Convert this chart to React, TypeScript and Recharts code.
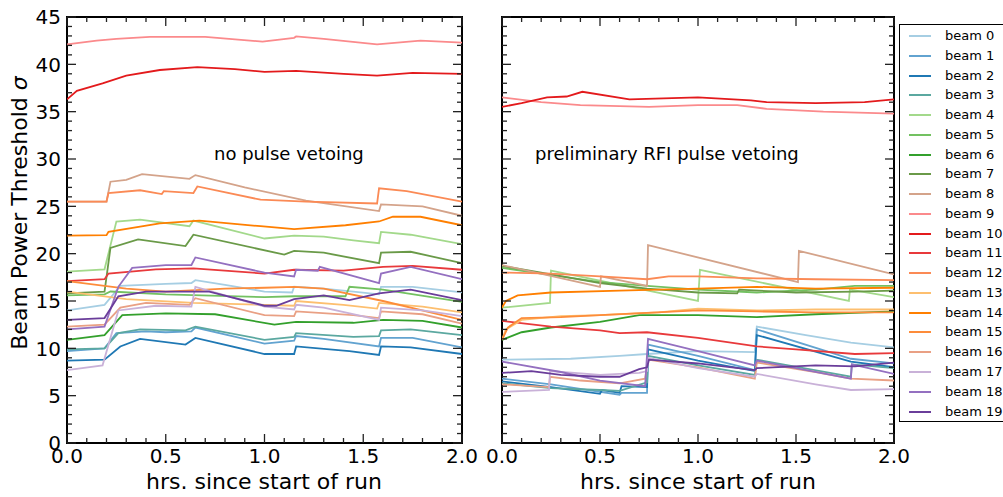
import React from "react";
import { LineChart, Line, XAxis, YAxis, ReferenceArea } from "recharts";

const BEAMS = [
	"beam 0", "beam 1", "beam 2", "beam 3", "beam 4",
	"beam 5", "beam 6", "beam 7", "beam 8", "beam 9",
	"beam 10", "beam 11", "beam 12", "beam 13", "beam 14",
	"beam 15", "beam 16", "beam 17", "beam 18", "beam 19",
];

const BEAM_COLORS = [
	"#a6cee3", "#62a3d0", "#1f78b4", "#5ba8a0", "#a3d98b",
	"#73c161", "#33a02c", "#6a9a48", "#d4a38a", "#fb8a8c",
	"#e31a1c", "#e8393b", "#fb8a55", "#fdbf6f", "#ff7f00",
	"#fd8c3a", "#e9a084", "#c9b1d8", "#9470c0", "#6a3d9a",
];

// no pulse vetoing: [hrs, sigma]
const nv0 = [[0, 14.0], [0.19, 14.6], [0.27, 16.6], [0.5, 16.8], [0.63, 16.9], [0.65, 17.2], [0.8, 16.7], [1.0, 16.0], [1.14, 15.9], [1.15, 16.5], [1.3, 16.3], [1.45, 16.0], [1.58, 15.7], [1.59, 16.5], [1.75, 16.5], [2.0, 15.9]];
const nv1 = [[0, 9.7], [0.19, 10.0], [0.25, 11.6], [0.4, 11.8], [0.5, 11.7], [0.63, 11.8], [0.65, 12.2], [1.0, 10.5], [1.15, 10.8], [1.16, 11.3], [1.3, 11.0], [1.58, 10.2], [1.59, 11.1], [1.75, 11.1], [2.0, 10.1]];
const nv2 = [[0, 8.7], [0.19, 8.8], [0.27, 10.2], [0.37, 11.0], [0.6, 10.4], [0.65, 11.1], [1.0, 9.4], [1.15, 9.4], [1.16, 10.2], [1.43, 9.7], [1.58, 9.3], [1.59, 10.2], [1.74, 10.1], [2.0, 9.4]];
const nv3 = [[0, 9.9], [0.19, 10.0], [0.26, 11.6], [0.37, 12.0], [0.6, 11.9], [0.65, 12.3], [1.0, 10.9], [1.15, 11.2], [1.16, 11.6], [1.45, 11.2], [1.58, 11.3], [1.59, 11.9], [1.74, 12.0], [2.0, 11.4]];
const nv4 = [[0, 18.1], [0.19, 18.35], [0.25, 23.4], [0.37, 23.6], [0.62, 22.9], [0.64, 23.5], [1.0, 21.6], [1.15, 21.9], [1.3, 21.8], [1.45, 21.4], [1.58, 21.1], [1.59, 22.3], [1.74, 22.0], [2.0, 21.0]];
const nv5 = [[0, 15.6], [0.19, 15.7], [0.22, 16.0], [0.5, 15.7], [1.0, 15.4], [1.15, 15.5], [1.41, 15.5], [1.43, 16.5], [1.6, 16.2], [2.0, 14.9]];
const nv6 = [[0, 10.9], [0.19, 11.4], [0.28, 13.5], [0.5, 13.7], [0.75, 13.6], [1.05, 12.5], [1.16, 12.8], [1.45, 12.7], [1.6, 13.0], [1.8, 12.9], [2.0, 12.2]];
const nv7 = [[0, 15.8], [0.19, 16.0], [0.22, 20.6], [0.36, 21.5], [0.6, 20.8], [0.64, 22.0], [1.1, 19.9], [1.15, 20.3], [1.3, 20.1], [1.58, 19.0], [1.59, 20.1], [1.74, 20.2], [2.0, 19.0]];
const nv8 = [[0, 25.5], [0.2, 25.5], [0.22, 27.6], [0.3, 27.8], [0.38, 28.4], [0.62, 27.9], [0.65, 28.3], [0.9, 27.0], [1.21, 25.6], [1.58, 24.5], [1.59, 25.2], [1.8, 25.0], [2.0, 24.0]];
const nv9 = [[0, 42.1], [0.15, 42.5], [0.25, 42.7], [0.42, 42.9], [0.7, 42.9], [0.99, 42.4], [1.15, 42.8], [1.16, 42.95], [1.3, 42.7], [1.57, 42.1], [1.79, 42.5], [2.0, 42.3]];
const nv10 = [[0, 36.3], [0.05, 37.2], [0.18, 38.0], [0.3, 38.8], [0.47, 39.4], [0.66, 39.7], [0.85, 39.5], [1.0, 39.2], [1.16, 39.3], [1.4, 39.0], [1.57, 38.8], [1.75, 39.1], [2.0, 39.0]];
const nv11 = [[0, 17.1], [0.19, 17.3], [0.21, 17.9], [0.45, 18.35], [0.64, 18.45], [1.0, 17.9], [1.15, 18.3], [1.4, 18.2], [1.6, 18.6], [1.75, 18.7], [2.0, 18.3]];
const nv12 = [[0, 25.5], [0.2, 25.5], [0.21, 26.4], [0.37, 26.7], [0.48, 26.3], [0.49, 26.6], [0.64, 26.4], [0.66, 27.1], [0.98, 25.7], [1.21, 25.5], [1.57, 25.3], [1.58, 26.9], [1.72, 26.6], [2.0, 25.5]];
const nv13 = [[0, 16.0], [0.3, 15.2], [0.64, 14.8], [1.0, 14.6], [1.15, 14.5], [1.16, 15.0], [1.4, 14.6], [1.57, 14.2], [1.58, 14.8], [1.8, 14.4], [2.0, 13.8]];
const nv14 = [[0, 21.9], [0.2, 21.95], [0.21, 22.3], [0.47, 23.2], [0.67, 23.5], [0.98, 22.9], [1.15, 22.6], [1.41, 23.0], [1.58, 23.4], [1.65, 23.9], [1.79, 23.9], [2.0, 23.0]];
const nv15 = [[0, 17.1], [0.3, 16.3], [0.5, 16.0], [0.8, 16.3], [1.0, 16.4], [1.15, 16.5], [1.3, 16.3], [1.6, 15.0], [2.0, 13.0]];
const nv16 = [[0, 12.3], [0.19, 12.5], [0.27, 14.3], [0.4, 14.8], [0.62, 14.6], [0.65, 15.3], [1.0, 13.5], [1.15, 13.4], [1.16, 13.9], [1.45, 13.5], [1.58, 13.2], [1.59, 13.9], [1.8, 13.6], [2.0, 12.6]];
const nv17 = [[0, 7.7], [0.18, 8.2], [0.26, 14.0], [0.45, 14.5], [0.63, 14.4], [0.65, 16.5], [1.0, 14.4], [1.15, 14.1], [1.16, 14.6], [1.3, 14.3], [1.58, 13.0], [1.59, 14.3], [1.8, 14.0], [2.0, 13.4]];
const nv18 = [[0, 12.0], [0.19, 12.3], [0.26, 16.5], [0.33, 18.5], [0.5, 18.8], [0.63, 18.8], [0.65, 19.6], [1.0, 18.0], [1.15, 17.6], [1.16, 18.3], [1.27, 18.2], [1.28, 18.6], [1.58, 16.9], [1.59, 17.9], [1.74, 18.6], [2.0, 17.3]];
const nv19 = [[0, 13.0], [0.19, 13.2], [0.26, 15.5], [0.4, 16.0], [0.72, 16.0], [1.0, 14.5], [1.06, 14.5], [1.15, 15.2], [1.3, 15.6], [1.43, 15.1], [1.58, 15.8], [1.74, 16.2], [2.0, 15.1]];

// preliminary RFI pulse vetoing: [hrs, sigma]
const rv0 = [[0, 8.8], [0.35, 8.9], [0.6, 9.2], [0.74, 9.4], [1.0, 9.7], [1.29, 9.6], [1.3, 12.3], [1.55, 11.4], [1.78, 10.6], [2.0, 10.1]];
const rv1 = [[0, 6.8], [0.25, 6.2], [0.5, 5.4], [0.6, 5.1], [0.61, 5.3], [0.74, 5.3], [0.745, 10.4], [1.0, 9.2], [1.29, 7.7], [1.3, 12.0], [1.78, 8.9], [2.0, 8.4]];
const rv2 = [[0, 6.5], [0.25, 5.9], [0.5, 5.2], [0.51, 5.6], [0.6, 5.3], [0.61, 6.0], [0.74, 5.9], [0.745, 9.9], [1.0, 8.7], [1.29, 7.6], [1.3, 11.4], [1.78, 8.6], [2.0, 8.0]];
const rv3 = [[0, 6.3], [0.25, 5.8], [0.5, 5.6], [0.6, 5.5], [0.74, 6.4], [0.745, 9.2], [1.0, 8.2], [1.29, 7.2], [1.3, 8.8], [1.78, 7.0], [1.785, 8.3], [2.0, 7.9]];
const rv4 = [[0, 14.3], [0.245, 14.8], [0.25, 18.2], [1.0, 15.0], [1.01, 18.3], [1.77, 15.0], [1.775, 16.2], [2.0, 15.4]];
const rv5 = [[0, 18.5], [0.3, 17.6], [0.5, 17.0], [0.74, 16.6], [1.0, 16.2], [1.3, 15.9], [1.6, 16.2], [1.8, 16.6], [2.0, 16.6]];
const rv6 = [[0, 10.9], [0.1, 11.7], [0.25, 12.2], [0.5, 12.8], [0.7, 13.5], [1.0, 13.5], [1.3, 13.3], [1.6, 13.6], [2.0, 13.9]];
const rv7 = [[0, 18.7], [0.2, 18.0], [0.5, 16.9], [0.74, 16.3], [1.0, 15.9], [1.2, 15.8], [1.21, 16.2], [1.5, 15.9], [1.8, 16.0], [2.0, 16.1]];
const rv8 = [[0, 18.8], [0.5, 16.5], [0.505, 17.6], [0.74, 16.6], [0.745, 20.9], [1.51, 17.0], [1.515, 20.3], [2.0, 17.8]];
const rv9 = [[0, 36.5], [0.2, 36.0], [0.4, 35.7], [0.75, 35.5], [1.0, 35.7], [1.2, 35.7], [1.35, 35.3], [1.64, 35.0], [2.0, 34.8]];
const rv10 = [[0, 35.5], [0.1, 35.9], [0.23, 36.5], [0.33, 36.6], [0.41, 37.1], [0.65, 36.3], [1.0, 36.5], [1.27, 36.2], [1.35, 36.0], [1.6, 35.9], [1.85, 36.0], [2.0, 36.3]];
const rv11 = [[0, 12.9], [0.25, 12.3], [0.5, 11.9], [0.6, 11.6], [0.74, 11.7], [1.0, 11.1], [1.3, 10.2], [1.5, 9.9], [1.8, 9.4], [2.0, 9.5]];
const rv12 = [[0, 18.0], [0.25, 17.9], [0.5, 17.6], [0.74, 17.3], [0.85, 17.6], [1.0, 17.6], [1.3, 17.4], [1.6, 17.3], [2.0, 17.2]];
const rv13 = [[0, 10.9], [0.02, 12.0], [0.1, 13.0], [0.3, 13.4], [0.5, 13.5], [0.8, 13.8], [1.0, 14.2], [1.3, 14.0], [1.6, 14.1], [2.0, 14.1]];
const rv14 = [[0, 14.3], [0.02, 15.0], [0.08, 15.6], [0.25, 15.9], [0.6, 16.1], [1.0, 16.3], [1.3, 16.5], [1.6, 16.3], [2.0, 16.4]];
const rv15 = [[0, 10.9], [0.03, 12.2], [0.1, 13.2], [0.3, 13.3], [0.5, 13.5], [1.0, 14.0], [1.3, 13.9], [1.6, 13.8], [2.0, 13.8]];
const rv16 = [[0, 6.2], [0.24, 5.9], [0.245, 7.0], [0.4, 6.6], [0.6, 6.3], [0.73, 6.8], [0.745, 8.8], [1.0, 8.0], [1.29, 6.8], [1.3, 8.5], [1.6, 7.5], [1.78, 6.8], [2.0, 6.6]];
const rv17 = [[0, 5.4], [0.24, 5.6], [0.245, 7.6], [0.5, 7.2], [0.7, 7.4], [0.74, 7.6], [0.745, 9.0], [1.0, 7.9], [1.29, 7.0], [1.3, 7.3], [1.6, 6.2], [1.78, 5.6], [2.0, 5.7]];
const rv18 = [[0, 8.6], [0.3, 7.5], [0.5, 6.6], [0.73, 6.0], [0.745, 11.0], [1.0, 9.7], [1.29, 8.2], [1.3, 8.7], [1.78, 6.8], [1.785, 8.3], [2.0, 7.3]];
const rv19 = [[0, 7.4], [0.15, 7.6], [0.3, 7.2], [0.5, 7.0], [0.6, 7.0], [0.7, 7.8], [0.74, 8.0], [0.75, 8.8], [1.0, 8.4], [1.29, 7.7], [1.3, 7.9], [1.6, 8.2], [1.8, 8.1], [2.0, 8.5]];

const NO_VETO = [nv0, nv1, nv2, nv3, nv4, nv5, nv6, nv7, nv8, nv9, nv10, nv11, nv12, nv13, nv14, nv15, nv16, nv17, nv18, nv19];
const RFI_VETO = [rv0, rv1, rv2, rv3, rv4, rv5, rv6, rv7, rv8, rv9, rv10, rv11, rv12, rv13, rv14, rv15, rv16, rv17, rv18, rv19];

const X_TICKS = [0, 0.1, 0.2, 0.3, 0.4, 0.5, 0.6, 0.7, 0.8, 0.9, 1.0, 1.1, 1.2, 1.3, 1.4, 1.5, 1.6, 1.7, 1.8, 1.9, 2.0];
const X_LABELS = ["0.0", "0.5", "1.0", "1.5", "2.0"];
const Y_TICKS = [0, 1, 2, 3, 4, 5, 6, 7, 8, 9, 10, 11, 12, 13, 14, 15, 16, 17, 18, 19, 20, 21, 22, 23, 24, 25, 26, 27, 28, 29, 30, 31, 32, 33, 34, 35, 36, 37, 38, 39, 40, 41, 42, 43, 44, 45];
const Y_LABELS = ["0", "5", "10", "15", "20", "25", "30", "35", "40", "45"];

const CHART_H = 497;
const PLOT_TOP = 17;
const PLOT_BOTTOM = 443;
const TICK_COLOR = "#222";
// extra room to the right of each plot so the last tick label is not cut
const RIGHT_PAD = 24;

const toRows = (pts: number[][]) => pts.map(([t, v]) => ({ t, v }));

interface PanelProps {
	series: number[][][];
	left: number;
	plotLeft: number;
	plotRight: number;
	showYLabels: boolean;
}

const Panel: React.FC<PanelProps> = ({ series, left, plotLeft, plotRight, showYLabels }) => {
	const axisW = plotLeft - left;
	const pl = axisW;
	const pr = plotRight - left;
	const width = pr + RIGHT_PAD;

	const xTick = (props: any) => {
		const { x, payload } = props;
		const label = Number(payload.value).toFixed(1);
		const major = X_LABELS.includes(label);
		const len = major ? 9 : 5;
		return (
			<g>
				<line x1={x} x2={x} y1={PLOT_BOTTOM} y2={PLOT_BOTTOM - len} stroke={TICK_COLOR} strokeWidth={1.3} />
				<line x1={x} x2={x} y1={PLOT_TOP} y2={PLOT_TOP + len} stroke={TICK_COLOR} strokeWidth={1.3} />
				{major && (
					<text x={x} y={PLOT_BOTTOM + 6} dy="0.72em" textAnchor="middle" fontSize={20} fill="#000">
						{label}
					</text>
				)}
			</g>
		);
	};

	const yTick = (props: any) => {
		const { y, payload } = props;
		const label = String(payload.value);
		const major = Y_LABELS.includes(label);
		const len = major ? 9 : 5;
		return (
			<g>
				<line x1={pl} x2={pl + len} y1={y} y2={y} stroke={TICK_COLOR} strokeWidth={1.3} />
				<line x1={pr - len} x2={pr} y1={y} y2={y} stroke={TICK_COLOR} strokeWidth={1.3} />
				{major && showYLabels && (
					<text x={pl - 6} y={y} dy="0.36em" textAnchor="end" fontSize={20} fill="#000">
						{label}
					</text>
				)}
			</g>
		);
	};

	return (
		<div style={{ position: "absolute", left, top: 0 }}>
			<LineChart
				width={width}
				height={CHART_H}
				margin={{ top: PLOT_TOP, right: RIGHT_PAD, bottom: 0, left: 0 }}
			>
				<XAxis
					type="number"
					dataKey="t"
					domain={[0, 2]}
					ticks={X_TICKS}
					interval={0}
					tickSize={0}
					tickMargin={6}
					axisLine={false}
					tickLine={false}
					tick={xTick}
					height={CHART_H - PLOT_BOTTOM}
					allowDataOverflow
				/>
				<YAxis
					type="number"
					domain={[0, 45]}
					ticks={Y_TICKS}
					interval={0}
					width={axisW}
					tickSize={0}
					tickMargin={6}
					axisLine={false}
					tickLine={false}
					tick={yTick}
					allowDataOverflow
				/>
				{series.map((pts, i) => (
					<Line
						key={BEAMS[i]}
						name={BEAMS[i]}
						data={toRows(pts)}
						dataKey="v"
						type="linear"
						stroke={BEAM_COLORS[i]}
						strokeWidth={1.8}
						dot={false}
						activeDot={false}
						isAnimationActive={false}
					/>
				))}
				<ReferenceArea x1={0} x2={2} y1={0} y2={45} fill="none" stroke="#000" strokeWidth={2} ifOverflow="visible" />
			</LineChart>
		</div>
	);
};

export default function App() {
	return (
		<div
			style={{
				position: "absolute",
				left: 0,
				top: 0,
				width: 1003,
				height: CHART_H,
				overflow: "hidden",
				background: "#fff",
				fontFamily: "'DejaVu Sans', sans-serif",
				color: "#000",
			}}
		>
			<Panel series={NO_VETO} left={0} plotLeft={67} plotRight={462} showYLabels />
			<Panel series={RFI_VETO} left={470} plotLeft={502} plotRight={894} showYLabels={false} />

			{/* panel annotations */}
			<div style={{ position: "absolute", left: 214, top: 145, fontSize: 18, lineHeight: "18px", whiteSpace: "nowrap" }}>
				no pulse vetoing
			</div>
			<div style={{ position: "absolute", left: 535, top: 145, fontSize: 18, lineHeight: "18px", whiteSpace: "nowrap" }}>
				preliminary RFI pulse vetoing
			</div>

			{/* axis labels */}
			<div style={{ position: "absolute", left: 64, width: 400, top: 471, textAlign: "center", fontSize: 22, lineHeight: "22px" }}>
				hrs. since start of run
			</div>
			<div style={{ position: "absolute", left: 498, width: 400, top: 471, textAlign: "center", fontSize: 22, lineHeight: "22px" }}>
				hrs. since start of run
			</div>
			<div
				style={{
					position: "absolute",
					left: 20 - 210,
					top: 213 - 12,
					width: 420,
					height: 24,
					lineHeight: "24px",
					textAlign: "center",
					fontSize: 22,
					transform: "rotate(-90deg)",
					whiteSpace: "nowrap",
				}}
			>
				Beam Power Threshold <span style={{ fontStyle: "italic" }}>σ</span>
			</div>

			{/* legend */}
			<div
				style={{
					position: "absolute",
					left: 899,
					top: 24,
					width: 120,
					height: 398,
					border: "1px solid #000",
					background: "#fff",
					paddingTop: 1,
					boxSizing: "border-box",
				}}
			>
				{BEAMS.map((name, i) => (
					<div key={name} style={{ position: "relative", height: 19.77, fontSize: 13 }}>
						<div
							style={{
								position: "absolute",
								left: 9,
								top: 9,
								width: 22,
								height: 2,
								background: BEAM_COLORS[i],
							}}
						/>
						<div style={{ position: "absolute", left: 45, top: 2, lineHeight: "15px", whiteSpace: "nowrap" }}>
							{name}
						</div>
					</div>
				))}
			</div>
		</div>
	);
}
